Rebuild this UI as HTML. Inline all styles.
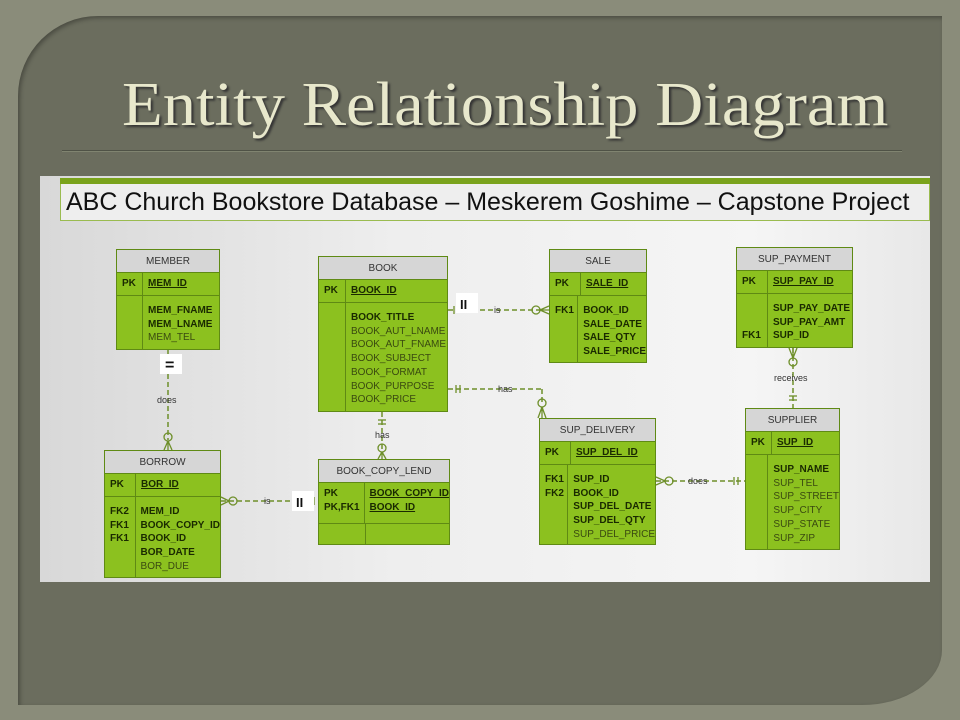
<!DOCTYPE html>
<html><head><meta charset="utf-8">
<style>
*{margin:0;padding:0;box-sizing:border-box}
body{width:960px;height:720px;background:#8a8c7a;position:relative;overflow:hidden;font-family:"Liberation Sans",sans-serif}
.panel{position:absolute;left:18px;top:16px;width:924px;height:689px;background:#6b6d5e;border-radius:80px 0 80px 0/80px 0 55px 0;box-shadow:inset 2px 2px 4px rgba(0,0,0,.3)}
.title{position:absolute;left:122px;top:70px;font-family:"Liberation Serif",serif;font-size:62px;color:#e8e8cc;text-shadow:2px 2px 2px #333;white-space:nowrap;transform:scaleX(1.075);transform-origin:left top}
.rule{position:absolute;left:62px;top:150px;width:840px;height:2px;background:#4f5246;border-bottom:1px solid #808470}
.img{position:absolute;left:40px;top:176px;width:890px;height:406px;background:linear-gradient(90deg,#d8d8d8,#eeeeee 40%,#f5f5f5 80%,#e8e8e8)}
.gbar{position:absolute;left:60px;top:178px;width:870px;height:6px;background:#7aa31c}
.band{position:absolute;left:60px;top:184px;width:870px;height:37px;background:#eeeeee;border:1px solid #9abb50;border-top:none}
.band span{position:absolute;left:5px;top:4px;font-size:25px;color:#111;white-space:nowrap}
.t{position:absolute;background:#8cc11f;border:1px solid #5f8a14;font-size:10px;color:#1a2a00;line-height:13.7px}
.t .h{background:#d6d6d6;border-bottom:1px solid #5f8a14;height:23px;text-align:center;line-height:23px;color:#333}
.t .r{display:flex;border-bottom:1px solid #5f8a14}
.t .r:last-child{border-bottom:none}
.t .k{border-right:1px solid #5f8a14;padding:4px 0 0 5px;font-weight:bold}
.t .v{padding:4px 0 0 5px}
.b{font-weight:bold}.u{text-decoration:underline;font-weight:bold}.n{color:#3a4a10}
svg{position:absolute;left:0;top:0}
</style></head><body>
<div class="panel"></div>
<div class="title">Entity Relationship Diagram</div>
<div class="rule"></div>
<div class="img"></div>
<div class="gbar"></div>
<div class="band"><span>ABC Church Bookstore Database – Meskerem Goshime – Capstone Project</span></div>

<div class="t" style="left:116px;top:249px;width:104px;height:101px">
<div class="h">MEMBER</div>
<div class="r" style="height:23px"><div class="k" style="width:26px">PK</div><div class="v u">MEM_ID</div></div>
<div class="r" style="height:54px"><div class="k" style="width:26px"></div><div class="v" style="padding-top:8px"><div class="b">MEM_FNAME</div><div class="b">MEM_LNAME</div><div class="n">MEM_TEL</div></div></div>
</div>

<div class="t" style="left:318px;top:256px;width:130px;height:156px">
<div class="h">BOOK</div>
<div class="r" style="height:23px"><div class="k" style="width:27px">PK</div><div class="v u">BOOK_ID</div></div>
<div class="r" style="height:108px"><div class="k" style="width:27px"></div><div class="v" style="padding-top:8px"><div class="b">BOOK_TITLE</div><div class="n">BOOK_AUT_LNAME</div><div class="n">BOOK_AUT_FNAME</div><div class="n">BOOK_SUBJECT</div><div class="n">BOOK_FORMAT</div><div class="n">BOOK_PURPOSE</div><div class="n">BOOK_PRICE</div></div></div>
</div>

<div class="t" style="left:549px;top:249px;width:98px;height:114px">
<div class="h">SALE</div>
<div class="r" style="height:23px"><div class="k" style="width:31px">PK</div><div class="v u">SALE_ID</div></div>
<div class="r" style="height:66px"><div class="k" style="width:31px;padding-top:8px">FK1</div><div class="v" style="padding-top:8px"><div class="b">BOOK_ID</div><div class="b">SALE_DATE</div><div class="b">SALE_QTY</div><div class="b">SALE_PRICE</div></div></div>
</div>

<div class="t" style="left:736px;top:247px;width:117px;height:101px">
<div class="h">SUP_PAYMENT</div>
<div class="r" style="height:23px"><div class="k" style="width:31px">PK</div><div class="v u">SUP_PAY_ID</div></div>
<div class="r" style="height:54px"><div class="k" style="width:31px;padding-top:35px">FK1</div><div class="v" style="padding-top:8px"><div class="b">SUP_PAY_DATE</div><div class="b">SUP_PAY_AMT</div><div class="b">SUP_ID</div></div></div>
</div>

<div class="t" style="left:104px;top:450px;width:117px;height:128px">
<div class="h">BORROW</div>
<div class="r" style="height:23px"><div class="k" style="width:31px">PK</div><div class="v u">BOR_ID</div></div>
<div class="r" style="height:81px"><div class="k" style="width:31px;padding-top:8px"><div>FK2</div><div>FK1</div><div>FK1</div></div><div class="v" style="padding-top:8px"><div class="b">MEM_ID</div><div class="b">BOOK_COPY_ID</div><div class="b">BOOK_ID</div><div class="b">BOR_DATE</div><div class="n">BOR_DUE</div></div></div>
</div>

<div class="t" style="left:318px;top:459px;width:132px;height:86px">
<div class="h">BOOK_COPY_LEND</div>
<div class="r" style="height:41px"><div class="k" style="width:47px"><div>PK</div><div>PK,FK1</div></div><div class="v"><div class="u">BOOK_COPY_ID</div><div class="u">BOOK_ID</div></div></div>
<div class="r" style="height:21px"><div class="k" style="width:47px"></div><div class="v"></div></div>
</div>

<div class="t" style="left:539px;top:418px;width:117px;height:127px">
<div class="h">SUP_DELIVERY</div>
<div class="r" style="height:23px"><div class="k" style="width:31px">PK</div><div class="v u">SUP_DEL_ID</div></div>
<div class="r" style="height:80px"><div class="k" style="width:31px;padding-top:8px"><div>FK1</div><div>FK2</div></div><div class="v" style="padding-top:8px"><div class="b">SUP_ID</div><div class="b">BOOK_ID</div><div class="b">SUP_DEL_DATE</div><div class="b">SUP_DEL_QTY</div><div class="n">SUP_DEL_PRICE</div></div></div>
</div>

<div class="t" style="left:745px;top:408px;width:95px;height:142px">
<div class="h">SUPPLIER</div>
<div class="r" style="height:23px"><div class="k" style="width:26px">PK</div><div class="v u">SUP_ID</div></div>
<div class="r" style="height:95px"><div class="k" style="width:26px"></div><div class="v" style="padding-top:8px"><div class="b">SUP_NAME</div><div class="n">SUP_TEL</div><div class="n">SUP_STREET</div><div class="n">SUP_CITY</div><div class="n">SUP_STATE</div><div class="n">SUP_ZIP</div></div></div>
</div>

<svg width="960" height="720" font-family="Liberation Sans,sans-serif" font-size="9">
<g stroke="#6e8f2a" stroke-width="1.5" fill="none" stroke-dasharray="5,3">
<line x1="168" y1="350" x2="168" y2="440"/>
<line x1="382" y1="412" x2="382" y2="452"/>
<line x1="448" y1="310" x2="540" y2="310"/>
<line x1="448" y1="389" x2="542" y2="389"/>
<line x1="542" y1="389" x2="542" y2="405"/>
<line x1="221" y1="501" x2="316" y2="501"/>
<line x1="656" y1="481" x2="745" y2="481"/>
<line x1="793" y1="348" x2="793" y2="408"/>
</g>
<g stroke="#6e8f2a" stroke-width="1.3" fill="none">
<circle cx="168" cy="437" r="4"/><path d="M168 441 L164 450 M168 441 L172 450 M168 441 V450"/>
<line x1="378" y1="420" x2="386" y2="420"/><line x1="378" y1="424" x2="386" y2="424"/>
<circle cx="382" cy="448" r="4"/><path d="M382 452 L378 459 M382 452 L386 459 M382 452V459"/>
<line x1="454" y1="306" x2="454" y2="314"/>
<circle cx="536" cy="310" r="4"/><path d="M540 310 L549 306 M540 310 L549 314 M540 310H549"/>
<line x1="456" y1="385" x2="456" y2="393"/><line x1="460" y1="385" x2="460" y2="393"/>
<circle cx="542" cy="403" r="4"/><path d="M542 407 L538 418 M542 407 L546 418 M542 407V418"/>
<circle cx="233" cy="501" r="4"/><path d="M229 501 L221 497 M229 501 L221 505"/>
<line x1="314" y1="497" x2="314" y2="505"/>
<circle cx="669" cy="481" r="4"/><path d="M665 481 L656 477 M665 481 L656 485"/>
<line x1="734" y1="477" x2="734" y2="485"/><line x1="738" y1="477" x2="738" y2="485"/>
<circle cx="793" cy="362" r="4"/><path d="M793 358 L789 348 M793 358 L797 348 M793 358V348"/>
<line x1="789" y1="396" x2="797" y2="396"/><line x1="789" y1="400" x2="797" y2="400"/>
</g>
<g fill="#333">
<text x="157" y="403">does</text>
<text x="375" y="438">has</text>
<text x="494" y="313">is</text>
<text x="498" y="392">has</text>
<text x="264" y="504">is</text>
<text x="688" y="484">does</text>
<text x="774" y="381">receives</text>
</g>
<rect x="160" y="354" width="22" height="20" fill="#fff"/>
<text x="165" y="370" font-size="16" font-weight="bold" fill="#111">=</text>
<rect x="456" y="293" width="22" height="20" fill="#fff"/>
<text x="460" y="309" font-size="13" font-weight="bold" fill="#111">II</text>
<rect x="292" y="491" width="22" height="20" fill="#fff"/>
<text x="296" y="507" font-size="13" font-weight="bold" fill="#111">II</text>
</svg>
</body></html>
